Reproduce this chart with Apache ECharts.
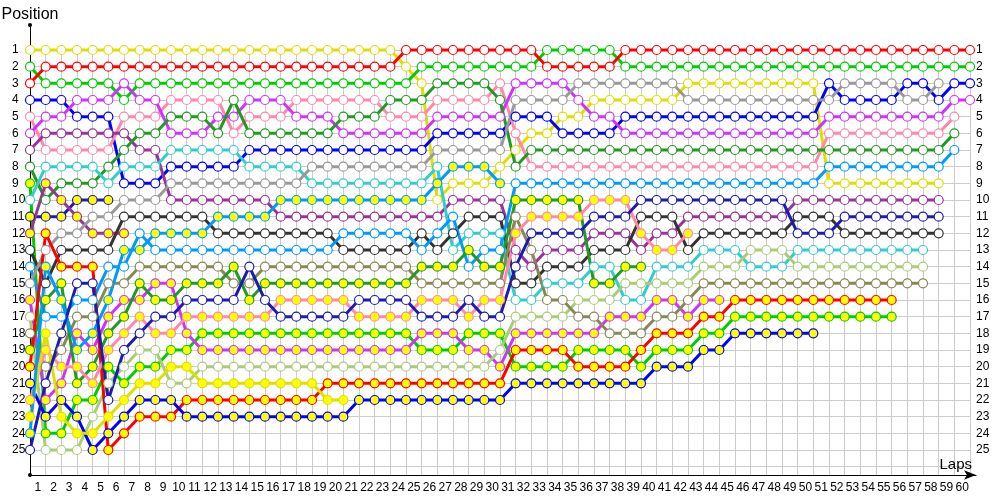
<!DOCTYPE html>
<html><head><meta charset="utf-8">
<script src="https://cdn.jsdelivr.net/npm/echarts@6/dist/echarts.min.js"></script>
<style>html,body{margin:0;padding:0;background:#fff}#c{width:1000px;height:500px}</style>
</head><body><div id="c"></div>
<script>
// Tick labels
const lapTicks = ['1','2','3','4','5','6','7','8','9','10','11','12','13','14','15','16','17','18','19','20',
'21','22','23','24','25','26','27','28','29','30','31','32','33','34','35','36','37','38','39','40',
'41','42','43','44','45','46','47','48','49','50','51','52','53','54','55','56','57','58','59','60'];
const posTicks = [1,2,3,4,5,6,7,8,9,10,11,12,13,14,15,16,17,18,19,20,21,22,23,24,25];

// Positions per lap (index = lap, starting at lap 0)
const pRed = [3,2,2,2,2,2,2,2,2,2, 2,2,2,2,2,2,2,2,2,2, 2,2,2,2,1,1,1,1,1,1, 1,1,1,2,2,2,2,2,1,1, 1,1,1,1,1,1,1,1,1,1, 1,1,1,1,1,1,1,1,1,1, 1];
const pGreen = [2,3,3,3,3,3,4,3,3,3, 3,3,3,3,3,3,3,3,3,3, 3,3,3,3,3,2,2,2,2,2, 2,2,2,1,1,1,1,1,2,2, 2,2,2,2,2,2,2,2,2,2, 2,2,2,2,2,2,2,2,2,2, 2];
const pYellow = [1,1,1,1,1,1,1,1,1,1, 1,1,1,1,1,1,1,1,1,1, 1,1,1,1,2,3,10,9,9,9, 8,7,6,6,5,5,4,4,4,4, 4,4,3,3,3,3,3,3,3,3, 3,9,9,9,9,9,9,9,9];
const pBlue = [4,4,4,5,5,5,9,9,9,8, 8,8,8,8,7,7,7,7,7,7, 7,7,7,7,7,7,6,6,6,6, 6,5,5,5,6,6,6,6,5,5, 5,5,5,5,5,5,5,5,5,5, 5,3,4,4,4,4,3,3,4,3, 3];
const pViolet = [6,5,5,4,4,4,3,4,4,6, 6,6,5,5,4,4,4,5,5,5, 6,6,6,6,6,6,5,5,5,5, 5,3,3,3,3,4,5,5,6,6, 6,6,6,6,6,6,6,6,6,6, 6,5,5,5,5,5,5,5,5,4, 4];
const pPink = [5,7,7,7,7,7,5,5,5,4, 4,4,4,6,5,5,5,4,4,4, 4,4,4,5,5,5,4,4,4,4, 3,6,8,8,8,8,8,8,8,8, 8,8,8,8,8,8,8,8,8,8, 8,6,6,6,6,6,6,6,6,5];
const pDkGreen = [8,10,9,9,9,8,7,6,6,5, 5,5,6,4,6,6,6,6,6,6, 5,5,5,4,4,4,3,3,3,3, 4,8,7,7,7,7,7,7,7,7, 7,7,7,7,7,7,7,7,7,7, 7,7,7,7,7,7,7,7,7,6];
const pPurple = [7,6,6,6,6,6,6,7,7,10, 10,10,10,10,10,10,11,11,11,11, 11,11,11,11,11,11,11,10,10,10, 10,13,14,13,13,13,12,12,12,13, 12,12,11,11,11,11,11,11,11,10, 10,10,10,10,10,10,10,10,10];
const pCyan = [10,8,8,8,8,9,8,8,8,7, 7,7,7,7,8,8,8,8,9,9, 9,9,9,9,9,9,8,13,12,12, 12,16,16,15,15,15,14,14,16,16, 14,14,14,13,13,13,14,14,14,13, 13,13,13,13,13,13,13,13];
const pGray = [15,13,12,12,11,11,10,10,10,9, 9,9,9,9,9,9,9,9,8,8, 8,8,8,8,8,8,7,7,7,7, 7,4,4,4,4,3,3,3,3,3, 3,3,4,4,4,4,4,4,4,4, 4,4,3,3,3,3,4,4,3];
const pNavy = [25,21,18,15,15,22,19,18,17,17, 16,16,16,16,14,16,17,17,17,17, 17,16,16,16,16,17,17,17,16,17, 17,14,12,12,12,12,11,11,11,10, 10,10,10,10,10,10,10,10,10,12, 12,12,11,11,11,11,11,11,11];
const pBlack = [13,15,13,13,13,13,11,11,11,11, 11,11,12,12,12,12,12,12,12,12, 13,13,13,13,13,12,13,12,11,11, 11,15,15,14,14,14,13,13,13,11, 11,11,13,12,12,12,12,12,12,11, 11,11,12,12,12,12,12,12,12];
const pAzureA = [24,14,16,19,18,16,13,13,12,12, 12,12,11,11,11,11,10,10,10,10, 10,10,10,10,10,10,9,8,8,8, 9];
const pAzureB = [14,17,17,16,16,14,14,12,13,13, 13,13,13,13,13,13,13,13,13,13, 12,12,12,12,12,13,12,11,14,13, 13,9,9,9,9,9,9,9,9,9, 9,9,9,9,9,9,9,9,9,9, 9,8,8,8,8,8,8,8,8,7];
const pOlive = [18,20,19,17,17,15,15,14,14,14, 14,14,14,15,15,14,14,14,14,14, 14,14,14,14,14,15,15,15,15,15, 15,11,13,16,16,17,17,18,18,18, 17,17,16,15,15,15,15,15,15,15, 15,15,15,15,15,15,15,15];
const pLtGreen = [17,25,25,25,23,21,20,19,19,21, 21,20,20,20,20,20,20,20,20,20, 20,20,20,20,20,20,20,20,20,20, 19,17,17,17,17,16,16,16,15,15, 15,15,15,14,14,14,13,13,13,14, 14,14,14,14,14,14,14,14];
const pNavy2 = [11,11,11,10,10,10];
const pPurple2 = [12,9,10,11,12,12,12];
const pViolet2 = [16,22,21,18,19,17,16,16,15,15, 18,19,19,19,19,19,19,19,19,19, 19,19,19,19,19,18,18,18,19,19, 20,18,18,18,18,18,18,17,17,17, 16,16,17,16,16];
const pDkGreen2 = [19,16,15,21,20,18,17,15,16,16, 15,15,15,14,16,15,15,15,15,15, 15,15,15,15,15,14,14,14,13,14, 14,10,10,10,10,10,15,15,14,14];
const pPink2 = [22,19,20,20,21,19,18,17,18,18, 17,17,17,17,17,17,16,16,16,16, 16,17,17,17,17,16,16,16,17,16, 16,12,11,11,11,11,10,10,10,12, 13,13,12];
const pYellow2 = [23,18,23,24,24,23,22,21,21,20, 20,21,21,21,21,21,21,21,21,22, 22];
const pGreen2 = [9,24,24,22,22,20,21,20,20,19, 19,18,18,18,18,18,18,18,18,18, 18,18,18,18,18,19,19,19,18,18, 18,20,20,20,20,19,19,19,19,20, 19,19,19,18,18,17,17,17,17,17, 17,17,17,17,17,17];
const pRed2 = [20,12,14,14,14,25,24,23,23,23, 22,22,22,22,22,22,22,22,22,21, 21,21,21,21,21,21,21,21,21,21, 21,19,19,19,19,20,20,20,20,19, 18,18,18,17,17,16,16,16,16,16, 16,16,16,16,16,16];
const pBlue2 = [21,23,22,23,25,24,23,22,22,22, 23,23,23,23,23,23,23,23,23,23, 23,22,22,22,22,22,22,22,22,22, 22,21,21,21,21,21,21,21,21,21, 20,20,20,19,19,18,18,18,18,18, 18];

// Styles
const C = {
  red:'#ff0000', green:'#00cc00', yellow:'#dede00', blue:'#0000ff', violet:'#cc33ff', pink:'#ff88aa',
  dkgreen:'#229922', purple:'#993399', cyan:'#33cccc', gray:'#999999', navy:'#1c1cb0', black:'#333333',
  azure:'#0099ff', olive:'#888855', ltgreen:'#aacc77'
};
const WHITE = '#ffffff', YFILL = '#ffff00';

// [positions, line colour, yellow-filled markers?]
const cars = [
  [pYellow, C.yellow, false], [pGreen, C.green, false], [pRed, C.red, false], [pBlue, C.blue, false],
  [pPink, C.pink, false], [pViolet, C.violet, false], [pPurple, C.purple, false], [pDkGreen, C.dkgreen, false],
  [pGreen2, C.green, true], [pCyan, C.cyan, false], [pNavy2, C.navy, true], [pPurple2, C.purple, true],
  [pBlack, C.black, false], [pAzureB, C.azure, false], [pGray, C.gray, false], [pViolet2, C.violet, true],
  [pLtGreen, C.ltgreen, false], [pOlive, C.olive, false], [pDkGreen2, C.dkgreen, true], [pRed2, C.red, true],
  [pBlue2, C.blue, true], [pPink2, C.pink, true], [pYellow2, C.yellow, true], [pAzureA, C.azure, true],
  [pNavy, C.navy, false]
];

const series = cars.map(([pos, color, yel]) => ({
  type: 'line', xAxisIndex: 0, yAxisIndex: 0, clip: false, animation: false,
  symbol: 'circle', symbolSize: 9, showAllSymbol: true,
  lineStyle: { color: color, width: 3 },
  itemStyle: { color: yel ? YFILL : WHITE, borderColor: color, borderWidth: 1.2 },
  emphasis: { disabled: true },
  z: 3,
  data: pos.map((p, lap) => [lap, p])
}));

const FONT = 'Liberation Sans';
const chart = echarts.init(document.getElementById('c'), null, { renderer: 'canvas', width: 1000, height: 500 });
chart.setOption({
  animation: false,
  backgroundColor: '#ffffff',
  grid: [
    { left: 30, right: 30, top: 50, bottom: 25, outerBoundsMode: 'none' },
    { left: 30, right: 24, top: 25, bottom: 25, outerBoundsMode: 'none' }
  ],
  xAxis: [
    { type: 'value', gridIndex: 0, min: 0, max: 60, interval: 1,
      axisLine: { show: false }, axisTick: { show: false }, axisLabel: { show: false },
      splitLine: { show: true, lineStyle: { color: '#cccccc', width: 1 } } },
    { type: 'category', gridIndex: 0, data: lapTicks, boundaryGap: true, position: 'bottom',
      axisLine: { show: false }, axisTick: { show: false }, splitLine: { show: false },
      axisLabel: { interval: 0, margin: 7, fontSize: 12, color: '#000', fontFamily: FONT } },
    { type: 'value', gridIndex: 1, min: 0, max: 1,
      axisLine: { show: true, lineStyle: { color: '#000', width: 1 }, symbol: ['none', 'arrow'], symbolSize: [7, 12] },
      axisTick: { show: false }, axisLabel: { show: false }, splitLine: { show: false },
      name: 'Laps', nameLocation: 'end', nameGap: -4,
      nameTextStyle: { fontSize: 15, color: '#000', fontFamily: FONT, align: 'right', verticalAlign: 'bottom', padding: [0, 0, 3, 0] } }
  ],
  yAxis: [
    { type: 'value', gridIndex: 0, inverse: true, min: 1, max: 26.5, interval: 1,
      axisLine: { show: false }, axisTick: { show: false },
      splitLine: { show: true, lineStyle: { color: '#cccccc', width: 1 } },
      axisLabel: { margin: 18, align: 'left', fontSize: 12, color: '#000', fontFamily: FONT,
        formatter: v => posTicks.includes(v) ? String(v) : '' } },
    { type: 'value', gridIndex: 0, inverse: true, min: 1, max: 26.5, interval: 1, position: 'right',
      axisLine: { show: false }, axisTick: { show: false }, splitLine: { show: false },
      axisLabel: { margin: 6, fontSize: 12, color: '#000', fontFamily: FONT,
        formatter: v => posTicks.includes(v) ? String(v) : '' } },
    { type: 'value', gridIndex: 1, min: 0, max: 1,
      axisLine: { show: true, lineStyle: { color: '#000', width: 1 }, symbol: ['circle', 'circle'], symbolSize: [4, 4] },
      axisTick: { show: false }, axisLabel: { show: false }, splitLine: { show: false },
      name: 'Position', nameLocation: 'end', nameGap: 2,
      nameTextStyle: { fontSize: 16, color: '#000', fontFamily: FONT, align: 'center', verticalAlign: 'bottom' } }
  ],
  series: series
});
</script>
</body></html>
